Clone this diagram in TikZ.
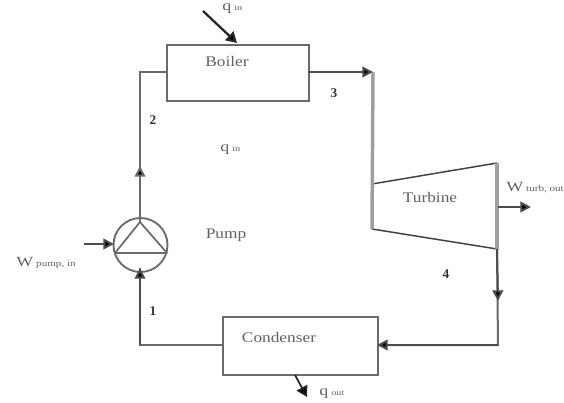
\documentclass[tikz,border=0pt]{standalone}
\usepackage{fontspec}
\setmainfont{Liberation Serif}
\usetikzlibrary{arrows.meta}
\definecolor{pipegray}{gray}{0.42}
\definecolor{wallgray}{gray}{0.62}
\definecolor{lblgray}{gray}{0.38}
\tikzset{
  x=0.75pt,y=-0.75pt,
  unitbox/.style={draw=pipegray,line width=1.5pt,inner sep=0pt},
  pipeline/.style={draw=pipegray,line width=1.5pt,line join=miter},
  wall/.style={draw=wallgray,line width=2.6pt},
  flow/.style={draw=black!70,line width=1.5pt,-{Triangle[length=8pt,width=8pt,fill=black]}},
  heat/.style={draw=black!85,line width=1.7pt,-{Triangle[length=8pt,width=9pt,fill=black]}},
  unitlabel/.style={text=lblgray,font=\fontsize{11}{12}\selectfont,inner sep=0pt,xscale=1.18,transform shape},
  statept/.style={text=black!80,font=\fontsize{10}{12}\selectfont\bfseries,inner sep=0pt},
  qlabel/.style={text=lblgray,font=\fontsize{10.5}{12}\selectfont,inner sep=0pt,xscale=1.28,transform shape}
}
\begin{document}
\begin{tikzpicture}
\useasboundingbox (0,0) rectangle (564,403);
% named corner points
\coordinate (boilerin) at (166,72);
\coordinate (boilerout) at (308,72);
\coordinate (pipeTL) at (140,72);
\coordinate (turbTL) at (372,184);
\coordinate (turbBL) at (372,229);
\coordinate (turbTR) at (497,163);
\coordinate (turbBR) at (497,249);
\coordinate (pipeTR) at (373,72);
\coordinate (pipeBR) at (498,345);
\coordinate (pipeBL) at (140,345);
\coordinate (pumpT) at (140,222);
\coordinate (pumpB) at (140,268);
\coordinate (pumpL) at (114,244);
\coordinate (pumpR) at (167,253);
\coordinate (pumpLL) at (115,253);
\coordinate (condin) at (377,345);
\coordinate (condout) at (222,345);
\coordinate (arrow2) at (140,166);
\coordinate (arrow4) at (498,301);
% boxes
\node[unitbox,minimum width=106.5pt,minimum height=42pt,anchor=north west] (boiler) at (166,44) {};
\node[unitbox,minimum width=116pt,minimum height=43.5pt,anchor=north west] (condenser) at (222,316) {};
\node[unitlabel] (boilertxt) at (227,61) {Boiler};
\node[unitlabel] (condensertxt) at (279,337) {Condenser};
% pump
\node[draw=pipegray,line width=1.4pt,circle,minimum size=40.5pt,inner sep=0pt] (pump) at (140.5,245) {};
\draw[pipeline,line width=1.3pt,line join=round] (pumpT) -- (pumpR) -- (pumpLL) -- cycle;
\node[unitlabel] (pumptxt) at (226,235) {Pump};
% turbine
\draw[draw=black!75,line width=1.1pt] (turbTL) -- (turbTR);
\draw[draw=black!75,line width=1.1pt] (turbBL) -- (turbBR);
\node[unitlabel] (turbinetxt) at (430,197) {Turbine};
% pipes
\draw[pipeline] (boilerin) -- (pipeTL) -- (pumpT);
\draw[flow,draw=pipegray] (pumpT) -- (arrow2);
\draw[wall] (pipeTR) -- (turbBL);
\draw[flow] (boilerout) -- (pipeTR);
\draw[wall] (turbTR) -- (turbBR);
\draw[pipeline] (turbBR) -- (pipeBR) -- (condin);
\draw[flow] (turbBR) -- (arrow4);
\draw[flow] (pipeBR) -- (condin);
\draw[pipeline] (condout) -- (pipeBL) -- (pumpB);
\draw[flow] (pipeBL) -- (pumpB);
% work and heat arrows
\coordinate (wout) at (531,207);
\coordinate (wouts) at (498,207);
\draw[flow] (wouts) -- (wout);
\coordinate (wins) at (84,244);
\draw[flow] (wins) -- (pumpL);
\coordinate (qins) at (203,11);
\coordinate (qine) at (237,43);
\draw[heat] (qins) -- (qine);
\coordinate (qouts) at (295,375);
\coordinate (qoute) at (307,397);
\draw[heat,line width=1.3pt] (qouts) -- (qoute);
% labels
\node[statept] (s1) at (153,311) {1};
\node[statept] (s2) at (153,120) {2};
\node[statept] (s3) at (334,93) {3};
\node[statept] (s4) at (446,274) {4};
\node[qlabel,anchor=west] (qin1) at (222,9) {q\,{\fontsize{6}{7}\selectfont in}};
\node[qlabel,anchor=west] (qin2) at (220,150) {q\,{\fontsize{6}{7}\selectfont in}};
\node[qlabel,anchor=west] (qout) at (319,394) {q\,{\fontsize{6}{7}\selectfont out}};
\node[qlabel,anchor=west] (wturb) at (506,188) {W\,{\fontsize{6.5}{7}\selectfont turb, out}};
\node[qlabel,anchor=west] (wpump) at (16,263) {W\,{\fontsize{6.5}{7}\selectfont pump, in}};
\end{tikzpicture}
\end{document}
